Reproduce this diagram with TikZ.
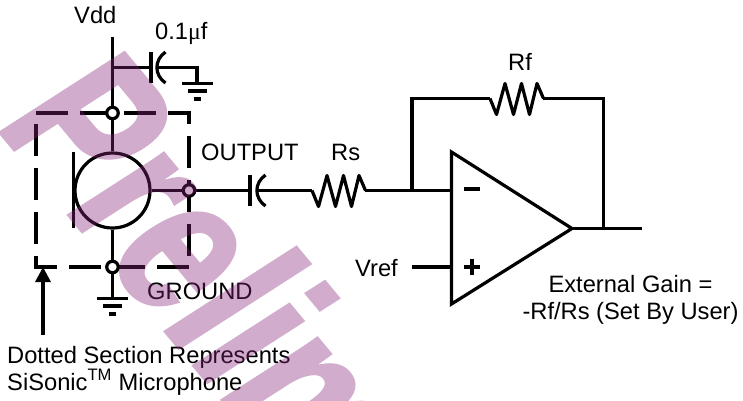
\documentclass[tikz,border=0pt]{standalone}
\usepackage{fontspec}
\setmainfont{Liberation Sans}
\newfontfamily\symf{Liberation Serif}
\newfontfamily\wmf{Liberation Sans}[BoldFeatures={FakeBold=1.5}]
\definecolor{wm}{rgb}{0.53,0.14,0.47}
\usetikzlibrary{arrows.meta}
\tikzset{
 wire/.style={line width=3.2pt,line join=miter},
 junction/.style={circle,draw,line width=3.2pt,fill=white,minimum size=11.5pt,inner sep=0pt},
 lbl/.style={inner sep=0pt,font=\fontsize{23.7pt}{27pt}\selectfont},
 lblw/.style={lbl,anchor=base west},
 lblc/.style={lbl,anchor=base},
 dashbox/.style={line width=3.2pt,dash pattern=on 32pt off 12pt},
 gnd/.pic={\fill (-15.5,-1.5) rectangle (15.5,2);\fill (-9.5,6) rectangle (9.5,10);\fill (-3.5,14) rectangle (3.5,18);},
 zig/.style={wire,line join=round},
}
\begin{document}
\begin{tikzpicture}[x=1pt,y=-1pt]
\useasboundingbox (0,0) rectangle (743,400);
\coordinate (vtop) at (112.5,37);
\coordinate (vbr) at (112.5,67.5);
\coordinate (c1a) at (151,67.5);
\coordinate (c1b) at (158,67.5);
\coordinate (g1t) at (197,67.5);
\coordinate (g1) at (197,83);
\coordinate (g2) at (112.5,298);
\coordinate (c2a) at (250,190.5);
\coordinate (c2b) at (258,190.5);
\coordinate (rsa) at (312,190.5);
\coordinate (rsb) at (365,190.5);
\coordinate (sum) at (412,190.5);
\coordinate (inm) at (451.5,190.5);
\coordinate (fbt) at (412,98.5);
\coordinate (rfa) at (490,98.5);
\coordinate (rfb) at (543,98.5);
\coordinate (fbr) at (603.5,98.5);
\coordinate (fbd) at (603.5,228.5);
\coordinate (opo) at (572,228.5);
\coordinate (out) at (642,228.5);
\coordinate (vra) at (412,267);
\coordinate (inp) at (451.5,267);
\coordinate (arra) at (43,335);
\coordinate (arrb) at (43,267);
\coordinate (bxa) at (36,113);
\coordinate (bxb) at (189,113);
\coordinate (bxc) at (189,256);
\coordinate (bxd) at (36,124);
\coordinate (bxe) at (36,267);
\coordinate (bxf) at (189,267);
% dashed box
\draw[dashbox] (bxa)--(bxb)--(bxc);
\draw[dashbox] (bxd)--(bxe)--(bxf);
% microphone
\node[circle,draw,line width=3.2pt,minimum size=75pt,inner sep=0pt] (mic) at (112.5,190.5) {};
\draw[wire] (73.5,152)--(73.5,228);
\draw[wire] (vtop)--(mic.north);
\draw[wire] (mic.south)--(g2);
\draw[wire] (vbr)--(c1a);
\draw[wire] (151,52)--(151,83);
\draw[wire] (165.5,52) .. controls (154,60) and (154,75) .. (165.5,83);
\draw[wire] (c1b)--(g1t)--(g1);
\pic at (g1) {gnd};
\pic at (g2) {gnd};
\draw[wire] (mic.east)--(c2a);
\draw[wire] (250,175)--(250,206);
\draw[wire] (265.5,175) .. controls (254,183) and (254,198) .. (265.5,206);
\draw[wire] (c2b)--(rsa);
\draw[zig] (rsa)--++(6.5,16)--++(8.5,-31)--++(8.5,31)--++(8,-31)--++(8,31)--++(7.5,-31)--++(6.5,15)--(rsb);
\draw[wire] (rsb)--(inm);
\draw[wire] (sum)--(fbt)--(rfa);
\draw[zig] (rfa)--++(6.5,16)--++(8.5,-31)--++(8.5,31)--++(8,-31)--++(8,31)--++(7.5,-31)--++(6.5,15)--(rfb);
\draw[wire] (rfb)--(fbr)--(fbd);
\draw[line width=3.2pt,line join=miter] (451.5,152)--(opo)--(451.5,304)--cycle;
\draw[wire] (opo)--(out);
\draw[wire] (vra)--(inp);
\fill (463.5,187) rectangle (479.5,191);
\fill (463.5,265) rectangle (479.5,269);
\fill (469.5,259) rectangle (473.5,275);
\draw[line width=3.2pt,-{Triangle[length=15pt,width=15pt]}] (arra)--(arrb);
\node[junction] (jt) at (112.5,113) {};
\node[junction] (jb) at (112.5,267) {};
\node[junction] (jo) at (189,190.5) {};
% texts
\node[lblw] (tvdd) at (74,23) {Vdd};
\node[lblw] (tcap) at (155,39) {0.1{\symf μ}f};
\node[lblw] (toutp) at (201,160) {OUTPUT};
\node[lblw] (trs) at (331,160) {Rs};
\node[lblw] (trf) at (508,70) {Rf};
\node[lblw] (tvref) at (355,276) {Vref};
\node[lblw] (tgnd) at (147,299) {GROUND};
\node[lblc] (tg1) at (630.5,292) {External Gain =};
\node[lblc] (tg2) at (630.5,319.5) {-Rf/Rs (Set By User)};
\node[lblw] (td1) at (7,363) {Dotted Section Represents};
\node[lblw] (td2) at (7,390) {SiSonic\textsuperscript{TM} Microphone};
% watermark
\begin{scope}
\clip (0,0) rectangle (743,400);
\begin{scope}[transparency group,opacity=0.38]
\begin{scope}[cm={0.476,-0.573,0.84,0.54,(-7pt,-124pt)}]
\node[transform shape,text=wm,inner sep=0pt,anchor=base west,font=\wmf\bfseries\fontsize{215pt}{215pt}\selectfont] (wmark) at (0,0) {Preliminary};
\end{scope}
\end{scope}
\end{scope}
\end{tikzpicture}
\end{document}
